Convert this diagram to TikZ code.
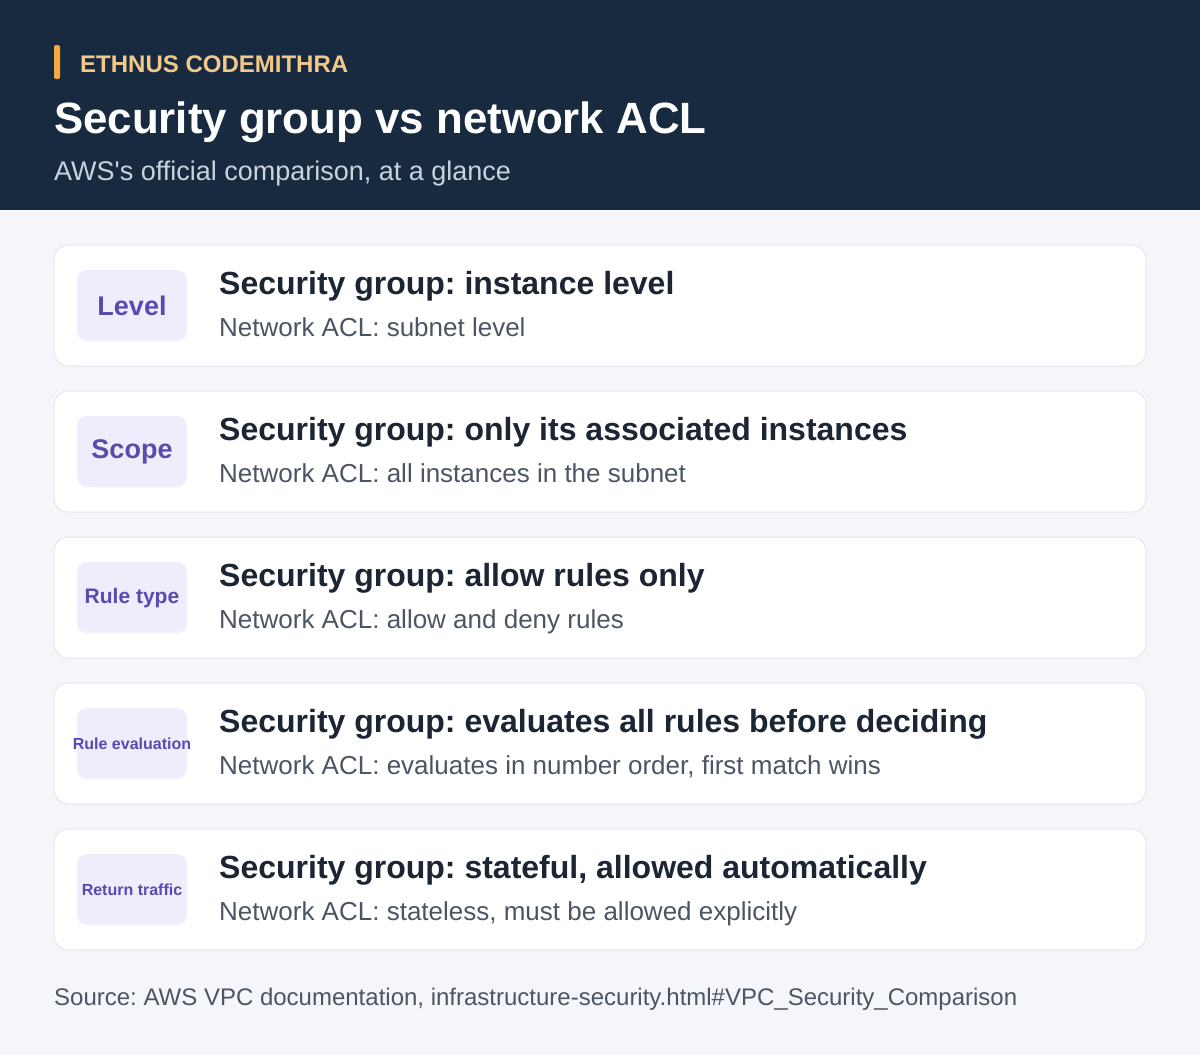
\documentclass[tikz,border=0pt]{standalone}
\usepackage{fontspec}
\setmainfont{Liberation Sans}
\usetikzlibrary{positioning}
\frenchspacing
\definecolor{headbg}{HTML}{172A3F}
\definecolor{pagebg}{HTML}{F4F6FA}
\definecolor{accent}{HTML}{F5A742}
\definecolor{brandtxt}{HTML}{F3C98A}
\definecolor{subtxt}{HTML}{C9D3DF}
\definecolor{cardline}{HTML}{E3E7EE}
\definecolor{badgebg}{HTML}{EFECFC}
\definecolor{badgetxt}{HTML}{5A4AB0}
\definecolor{darktxt}{HTML}{1B2533}
\definecolor{graytxt}{HTML}{4B5563}
\tikzset{
  card/.style={draw=cardline, line width=1pt, fill=white, rounded corners=14pt},
  badge/.style={fill=badgebg, rounded corners=10pt},
  badgetext/.style={inner sep=0pt, text=badgetxt},
  rowhead/.style={anchor=base west, inner sep=0pt, font=\fontsize{32}{36}\selectfont\bfseries, text=darktxt},
  rowsub/.style={anchor=base west, inner sep=0pt, font=\fontsize{26}{30}\selectfont, text=graytxt}
}
\begin{document}
\begin{tikzpicture}[x=1pt,y=-1pt]
\useasboundingbox (0,0) rectangle (1200,1055);
\fill[pagebg] (0,0) rectangle (1200,1055);
\fill[headbg] (0,0) rectangle (1200,210);
% header
\fill[accent, rounded corners=2pt] (54,45) rectangle (60,79);
\node[anchor=base west, inner sep=0pt, text=brandtxt, font=\fontsize{24}{28}\selectfont\bfseries] (brand) at (80,72) {ETHNUS CODEMITHRA};
\node[anchor=base west, inner sep=0pt, text=white, font=\fontsize{43.8}{50}\selectfont\bfseries] (title) at (54,133) {Security group vs network ACL};
\node[anchor=base west, inner sep=0pt, text=subtxt, font=\fontsize{27}{31}\selectfont] (subtitle) at (54,180) {AWS\textquotesingle s official comparison, at a glance};
% rows
\foreach \i/\tag/\tagsize/\sg/\acl in {
  0/Level/27/{instance level}/{subnet level},
  1/Scope/27/{only its associated instances}/{all instances in the subnet},
  2/Rule type/21/{allow rules only}/{allow and deny rules},
  3/Rule evaluation/16/{evaluates all rules before deciding}/{evaluates in number order, first match wins},
  4/Return traffic/16/{stateful, allowed automatically}/{stateless, must be allowed explicitly}}{
  \pgfmathsetmacro{\yy}{245+146*\i}
  \draw[card] (54,\yy) rectangle (1146,\yy+121);
  \fill[badge] (77,\yy+25) rectangle (187,\yy+96);
  \node[badgetext, font=\fontsize{\tagsize}{\tagsize}\selectfont\bfseries] (badge\i) at (132,\yy+61) {\tag};
  \node[rowhead] (head\i) at (219,\yy+49) {Security group: \sg};
  \node[rowsub] (sub\i) at (219,\yy+91) {Network ACL: \acl};
}
\node[anchor=base west, inner sep=0pt, text=graytxt, font=\fontsize{24}{28}\selectfont] (source) at (54,1005) {Source: AWS VPC documentation, infrastructure-security.html\#VPC\_Security\_Comparison};
\end{tikzpicture}
\end{document}
